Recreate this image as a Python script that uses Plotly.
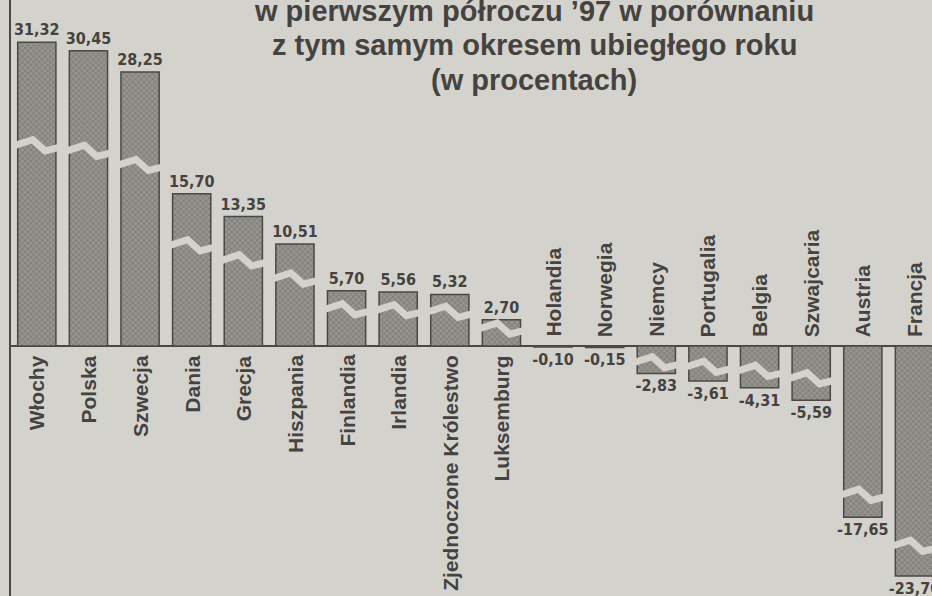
import plotly.graph_objects as go

countries = ["Włochy", "Polska", "Szwecja", "Dania", "Grecja", "Hiszpania",
             "Finlandia", "Irlandia", "Zjednoczone Królestwo", "Luksemburg",
             "Holandia", "Norwegia", "Niemcy", "Portugalia", "Belgia",
             "Szwajcaria", "Austria", "Francja"]
changes = [31.32, 30.45, 28.25, 15.70, 13.35, 10.51, 5.70, 5.56, 5.32, 2.70,
           -0.10, -0.15, -2.83, -3.61, -4.31, -5.59, -17.65, -23.70]
title_lines = ["w pierwszym półroczu ’97 w porównaniu",
               "z tym samym okresem ubiegłego roku",
               "(w procentach)"]

BG = "#d4d2cd"
INK = "#45433f"
idx = list(range(len(countries)))
value_text = [f"{v:.2f}".replace(".", ",") for v in changes]

fig = go.Figure()
fig.add_trace(go.Bar(
    x=idx, y=changes, width=0.74,
    marker=dict(color="#868480",
                line=dict(color="#4a4845", width=1.5),
                pattern=dict(shape="x", fgcolor="#5c5a57", bgcolor="#96948f",
                             size=4, solidity=0.35)),
    text=value_text, textposition="outside", textangle=0,
    constraintext="none", cliponaxis=True,
    textfont=dict(family="Liberation Sans Narrow, DejaVu Sans Condensed, Arial Narrow",
                  size=16, color=INK, weight="bold"),
    hoverinfo="skip", showlegend=False,
))

# decorative "break" zigzags (drawn in the background colour)
zig_dx = [-0.43, -0.08, 0.16, 0.43]
zig_dy = [0.0, 0.6, -0.55, -0.2]
zx, zy = [], []
for i, v in enumerate(changes):
    if abs(v) < 1:
        continue
    frac = 0.66 if v > 0 else (0.6 if v > -10 else 0.87)
    yc = v * frac
    for dx, dy in zip(zig_dx, zig_dy):
        zx.append(i + dx)
        zy.append(yc + dy)
    zx.append(None)
    zy.append(None)
fig.add_trace(go.Scatter(x=zx, y=zy, mode="lines",
                         line=dict(color=BG, width=7),
                         hoverinfo="skip", showlegend=False, cliponaxis=True))

annotations = []
for i, (c, v) in enumerate(zip(countries, changes)):
    annotations.append(dict(
        x=i, y=0, xref="x", yref="y", text=c, showarrow=False,
        textangle=-90, xanchor="center",
        yanchor="top" if v > 0 else "bottom",
        yshift=-7 if v > 0 else 7,
        font=dict(family="Liberation Sans, Arial", size=21, color=INK, weight="bold"),
    ))

title_centers_px = [11, 45, 80]
for line, ypx in zip(title_lines, title_centers_px):
    annotations.append(dict(
        x=(534 - 11) / 921, y=1 - ypx / 596, xref="paper", yref="paper",
        text=line, showarrow=False, xanchor="center", yanchor="middle",
        font=dict(family="Liberation Sans, Arial", size=29, color=INK, weight="bold"),
    ))

fig.update_layout(
    width=932, height=596,
    margin=dict(l=11, r=0, t=0, b=0),
    paper_bgcolor=BG, plot_bgcolor=BG,
    showlegend=False,
    annotations=annotations,
    xaxis=dict(range=[-0.5, 17.34], showticklabels=False, showgrid=False,
               zeroline=False, showline=False, ticks=""),
    yaxis=dict(range=[-25.77, 35.67], showticklabels=False, showgrid=False,
               zeroline=True, zerolinecolor="#4a4845", zerolinewidth=2,
               showline=True, linecolor="#4a4845", linewidth=2, ticks=""),
)

fig.write_html(
    "out.html",
    config={"displayModeBar": False},
    post_script=("document.body.style.margin='0';"
                 "document.body.style.padding='0';"
                 "document.body.style.background='" + BG + "';"),
)
